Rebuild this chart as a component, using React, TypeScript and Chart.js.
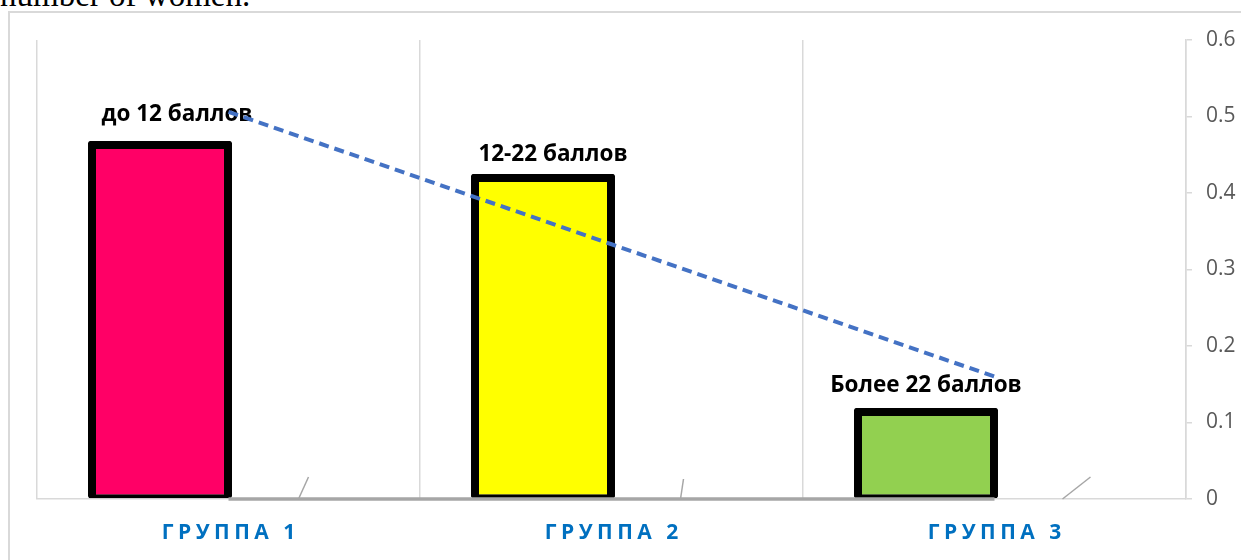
import React, { useEffect, useRef } from "react";
import { Chart, registerables } from "chart.js";

Chart.register(...registerables);

// ---- data ----
const categories = ["ГРУППА 1", "ГРУППА 2", "ГРУППА 3"];
const barLabels = ["до 12 баллов", "12-22 баллов", "Более 22 баллов"];
const shares = [0.468, 0.425, 0.119];
const trendValues = [0.506, 0.333, 0.16];
const baselineValues = [0, 0, 0];
const yTicks = [0, 0.1, 0.2, 0.3, 0.4, 0.5, 0.6];

// ---- styles ----
const barColors = ["#FF0066", "#FFFF00", "#92D050"];
const labelShiftX = [17, 10, 0];
const labelGapY = [20, 13, 16];
const leaderLines = [
  [70, 0, 80, -22],
  [69, 0, 72, -20],
  [68, 0, 96, -22],
];

const overlayPlugin = {
  id: "overlay",
  afterDatasetDraw(chart: any, args: any) {
    if (args.index !== 0) return;
    const ctx = chart.ctx;
    const meta = chart.getDatasetMeta(0);
    ctx.save();
    ctx.font = "bold 22.5px 'Open Sans'";
    ctx.fillStyle = "#000000";
    ctx.textAlign = "center";
    ctx.textBaseline = "alphabetic";
    meta.data.forEach((bar: any, i: number) => {
      ctx.fillText(barLabels[i], bar.x + labelShiftX[i], bar.y - labelGapY[i]);
    });
    ctx.restore();
  },
  afterDatasetsDraw(chart: any) {
    const ctx = chart.ctx;
    const xs = chart.scales.x;
    const ys = chart.scales.y;
    const y0 = ys.getPixelForValue(0);
    ctx.save();
    ctx.strokeStyle = "#a6a6a6";
    ctx.lineWidth = 1.5;
    categories.forEach((_, i) => {
      const cx = xs.getPixelForValue(i);
      const l = leaderLines[i];
      ctx.beginPath();
      ctx.moveTo(cx + l[0], y0 + l[1]);
      ctx.lineTo(cx + l[2], y0 + l[3]);
      ctx.stroke();
    });
    ctx.restore();
  },
  afterDraw(chart: any) {
    const ctx = chart.ctx;
    const xs = chart.scales.x;
    const bottom = chart.chartArea.bottom;
    ctx.save();
    const ls = 4.5;
    (ctx as any).letterSpacing = ls + "px";
    ctx.font = "bold 21px 'Open Sans'";
    ctx.fillStyle = "#0070C0";
    ctx.textAlign = "center";
    ctx.textBaseline = "middle";
    categories.forEach((c, i) => {
      ctx.fillText(c, xs.getPixelForValue(i) + ls / 2, bottom + 34);
    });
    ctx.restore();
  },
};

export default function App() {
  const ref = useRef<HTMLCanvasElement | null>(null);

  useEffect(() => {
    if (!ref.current) return;
    Chart.defaults.font.family = "'Open Sans'";
    const chart = new Chart(ref.current, {
      type: "bar",
      data: {
        labels: categories,
        datasets: [
          {
            type: "bar",
            data: shares,
            backgroundColor: barColors,
            borderColor: "#000000",
            borderWidth: { top: 8, left: 8, right: 8, bottom: 4 } as any,
            borderSkipped: false,
            borderRadius: 2,
            order: 2,
          },
          {
            type: "bar",
            data: [null, null, null],
            backgroundColor: "rgba(0,0,0,0)",
            borderWidth: 0,
            order: 3,
          },
          {
            type: "line",
            data: trendValues,
            borderColor: "#4472C4",
            borderWidth: 4,
            borderDash: [10, 6],
            pointRadius: 0,
            fill: false,
            tension: 0,
            clip: false,
            order: 1,
          },
          {
            type: "line",
            data: baselineValues,
            borderColor: "#a6a6a6",
            borderWidth: 3.5,
            pointRadius: 0,
            fill: false,
            tension: 0,
            clip: false,
            order: 1,
          },
        ] as any,
      },
      options: {
        responsive: false,
        animation: false,
        datasets: {
          bar: { categoryPercentage: 0.7154, barPercentage: 1.051 },
        } as any,
        layout: { padding: { left: 27, top: 27, right: 0, bottom: 0 } },
        plugins: {
          legend: { display: false },
          tooltip: { enabled: false },
        },
        scales: {
          x: {
            offset: true,
            grid: {
              display: true,
              offset: true,
              drawOnChartArea: true,
              drawTicks: false,
              color: "#d9d9d9",
              lineWidth: 1.5,
            },
            border: { display: true, color: "#d9d9d9", width: 1.5 },
            ticks: { display: false },
            afterFit: (s: any) => {
              s.height = 61;
            },
          },
          y: {
            position: "right",
            min: 0,
            max: 0.6,
            grid: {
              display: true,
              drawOnChartArea: false,
              drawTicks: true,
              tickLength: 6,
              color: "#d9d9d9",
              lineWidth: 1.5,
            },
            border: { display: true, color: "#d9d9d9", width: 1.5 },
            afterBuildTicks: (s: any) => {
              s.ticks = yTicks.map((v) => ({ value: v }));
            },
            ticks: {
              padding: 14,
              color: "#595959",
              font: { size: 21, family: "'Open Sans'" },
              callback: (v: any) => (Number(v) === 0 ? "0" : Number(v).toFixed(1)),
            },
            afterFit: (s: any) => {
              s.width = 55;
            },
          },
        },
      },
      plugins: [overlayPlugin],
    });
    return () => chart.destroy();
  }, []);

  return (
    <div
      style={{
        position: "fixed",
        left: 0,
        top: 0,
        width: 1241,
        height: 560,
        overflow: "hidden",
        background: "#ffffff",
      }}
    >
      <div
        style={{
          position: "absolute",
          left: 0,
          top: -21,
          fontFamily: "'Liberation Serif', 'Times New Roman', serif",
          fontSize: 33,
          lineHeight: "32px",
          whiteSpace: "nowrap",
          color: "#000",
        }}
      >
        number of women.
      </div>
      <div
        style={{
          position: "absolute",
          left: 8,
          top: 11,
          width: 1260,
          height: 600,
          border: "2px solid #d9d9d9",
          boxSizing: "border-box",
        }}
      />
      <canvas
        ref={ref}
        width={1231}
        height={547}
        style={{ position: "absolute", left: 10, top: 13, display: "block" }}
      />
    </div>
  );
}
